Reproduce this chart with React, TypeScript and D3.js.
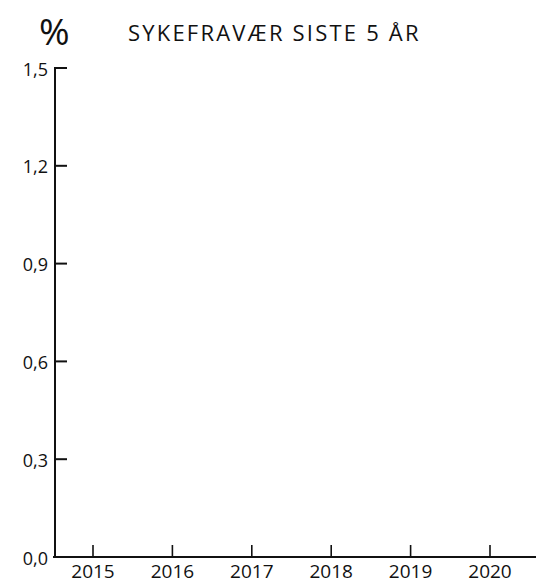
import React from "react";
import * as d3 from "d3";

const years = [2015, 2016, 2017, 2018, 2019, 2020];
const yTicks = [0, 0.3, 0.6, 0.9, 1.2, 1.5];
const title = "SYKEFRAVÆR SISTE 5 ÅR";
const unit = "%";

const W = 536;
const H = 585;
const FONT = "'Open Sans', 'DejaVu Sans', sans-serif";

export default function App() {
  const axisX = 55;
  const axisY = 557;
  const x = d3.scaleLinear().domain([2015, 2020]).range([93, 490]);
  const y = d3.scaleLinear().domain([0, 1.5]).range([axisY, 68]);
  const fmt = (v: number) => d3.format(".1f")(v).replace(".", ",");

  return (
    <svg
      width={W}
      height={H}
      style={{ position: "absolute", left: 0, top: 0, background: "#fff" }}
      fontFamily={FONT}
    >
      {/* tittel */}
      <text x={39} y={45} fontSize={37} fill="#111">{unit}</text>
      <text x={128} y={41} fontSize={22} fill="#111" letterSpacing={2.2}>{title}</text>

      {/* y-akse */}
      <line x1={axisX} x2={axisX} y1={y(1.5) - 1} y2={axisY} stroke="#111" strokeWidth={2} />
      {yTicks.map((t) => (
        <g key={t} transform={`translate(0,${y(t)})`}>
          {t > 0 && <line x1={axisX} x2={axisX + 12} stroke="#111" strokeWidth={2} />}
          <text x={48} dy="0.42em" textAnchor="end" fontSize={18} fill="#111">
            {fmt(t)}
          </text>
        </g>
      ))}

      {/* x-akse */}
      <line x1={axisX - 2} x2={W} y1={axisY} y2={axisY} stroke="#111" strokeWidth={2} />
      {years.map((yr) => (
        <g key={yr} transform={`translate(${x(yr)},0)`}>
          <line y1={axisY - 12} y2={axisY} stroke="#111" strokeWidth={1.6} />
          <text y={578} textAnchor="middle" fontSize={19} fill="#111">{yr}</text>
        </g>
      ))}
    </svg>
  );
}
